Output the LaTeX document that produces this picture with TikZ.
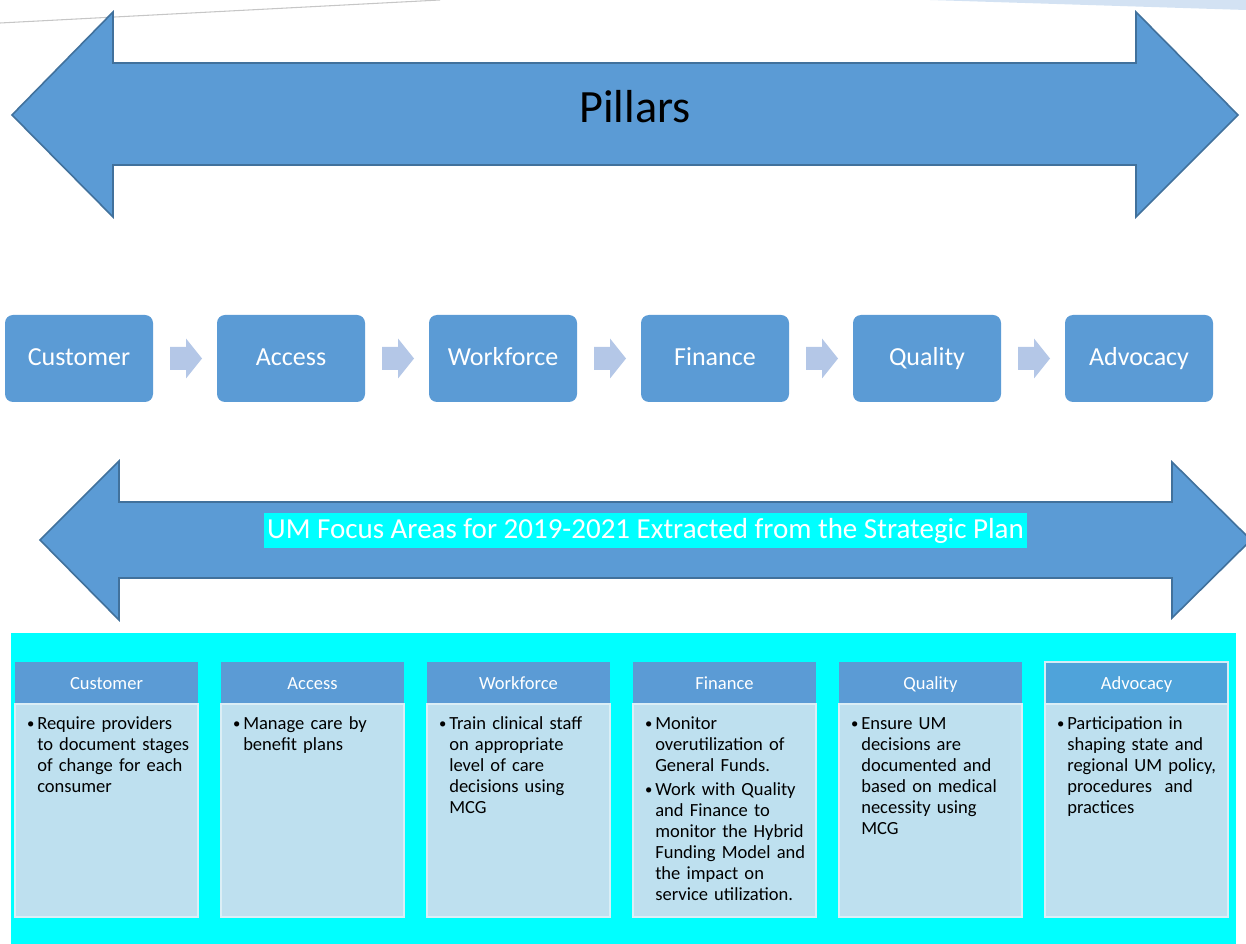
\documentclass[tikz,border=0pt]{standalone}
\usepackage{fontspec}
\setmainfont{Carlito}
\usetikzlibrary{positioning}

\definecolor{pillarblue}{HTML}{5B9BD5}
\definecolor{pillaredge}{HTML}{41719C}
\definecolor{chevblue}{HTML}{B4C7E7}
\definecolor{focusbody}{RGB}{190,224,239}
\definecolor{advhead}{HTML}{4FA3DA}
\definecolor{topband}{HTML}{D3E2F3}
\definecolor{aqua}{RGB}{0,255,255}

% one bullet point with hanging indent
\newcommand\umpoint[1]{\noindent\hangindent=8.25pt\hangafter=1%
  \makebox[8.25pt][l]{\hspace{0.6pt}\raisebox{0.9pt}{\fontsize{11}{11}\selectfont\textbullet}}\strut#1\par\vspace{2.25pt}}

\begin{document}
\begin{tikzpicture}[x=0.75pt,y=-0.75pt,
    bigarrow/.style={fill=pillarblue, draw=pillaredge, line width=1.2pt, line join=miter},
    pillar/.style={rectangle, rounded corners=6pt, fill=pillarblue, text=white,
      minimum width=111pt, minimum height=65.25pt, text height=15pt, text depth=3.75pt,
      font=\fontsize{19.5}{22}\selectfont},
    chev/.pic={\fill[chevblue] (-16,-11.5) -- (0,-11.5) -- (0,-20) -- (16,0) -- (0,20) -- (0,11.5) -- (-16,11.5) -- cycle;},
    umhead/.style={rectangle, fill=pillarblue, text=white, inner sep=0pt, outer sep=0pt, anchor=north west,
      minimum width=137.25pt, minimum height=31.5pt, text height=12pt, text depth=1.6pt,
      font=\fontsize{13.9}{16}\selectfont},
    umbody/.style={rectangle, fill=focusbody, draw=white!45!focusbody, line width=0.8pt, inner sep=0pt,
      outer sep=0pt, minimum width=137.25pt, minimum height=159.75pt, below=0pt of #1},
    umtext/.style={anchor=north west, inner sep=0pt, text width=126pt, align=left,
      font=\fontsize{13.9}{15.75}\selectfont},
  ]
  \useasboundingbox (0,0) rectangle (1246,944);

  % page decoration
  \draw[gray!45, line width=0.8pt] (0,23) -- (440,0);
  \fill[topband] (930,0) -- (1246,0) -- (1246,10) -- cycle;

  % top double arrow
  \draw[bigarrow] (12,115) -- (113,12) -- (113,63) -- (1136,63) -- (1136,12) -- (1238,115)
    -- (1136,217) -- (1136,165) -- (113,165) -- (113,217) -- cycle;
  \node[font=\fontsize{34.7}{40}\selectfont] (pillars) at (635,107) {Pillars};

  % pillar row
  \foreach \name [count=\n] in {Customer,Access,Workforce,Finance,Quality,Advocacy}
    \node[pillar] (p\n) at ({79+212*(\n-1)},358.5) {\name};
  \foreach \i [count=\j from 2] in {1,...,5} {
    \path (p\i.east) -- (p\j.west) coordinate[midway] (c\i);
    \pic at ([xshift=0.75pt]c\i) {chev};
  }

  % lower double arrow
  \draw[bigarrow] (40,540) -- (119,461) -- (119,502) -- (1172,502) -- (1172,462) -- (1251,540)
    -- (1172,618) -- (1172,578) -- (119,578) -- (119,620) -- cycle;
  \node[fill=aqua, text=white, inner xsep=2.5pt, inner ysep=0pt, minimum height=26.25pt,
    font=\fontsize{21.75}{24}\selectfont] (focus) at (645.5,530.5)
    {UM Focus Areas for 2019-2021 Extracted from the Strategic Plan};

  % focus area columns
  \fill[aqua] (11,633) rectangle (1236,944);
  \foreach \name/\body [count=\n] in {
      Customer/{\umpoint{Require providers\newline to document stages\newline of change for each\newline consumer}},
      Access/{\umpoint{Manage care by\newline benefit plans}},
      Workforce/{\umpoint{Train clinical staff\newline on appropriate\newline level of care\newline decisions using\newline MCG}},
      Finance/{\umpoint{Monitor\newline overutilization of\newline General Funds.}%
        \umpoint{Work with Quality\newline and Finance to\newline monitor the Hybrid\newline Funding Model and\newline the impact on\newline service utilization.}},
      Quality/{\umpoint{Ensure UM\newline decisions are\newline documented and\newline based on medical\newline necessity using\newline MCG}},
      Advocacy/{\umpoint{Participation in\newline shaping state and\newline regional UM policy,\newline procedures\ \ and\newline practices}}
    } {
    \ifnum\n=6 \tikzset{umhead/.append style={fill=advhead, draw=white!35!focusbody, line width=1.5pt}}\fi
    \node[umhead] (h\n) at ({15+206*(\n-1)},662) {\name};
    \node[umbody=h\n] (b\n) {};
    \node[umtext] (t\n) at ([xshift=8.25pt,yshift=-7.7pt]b\n.north west) {\body};
  }
\end{tikzpicture}
\end{document}
